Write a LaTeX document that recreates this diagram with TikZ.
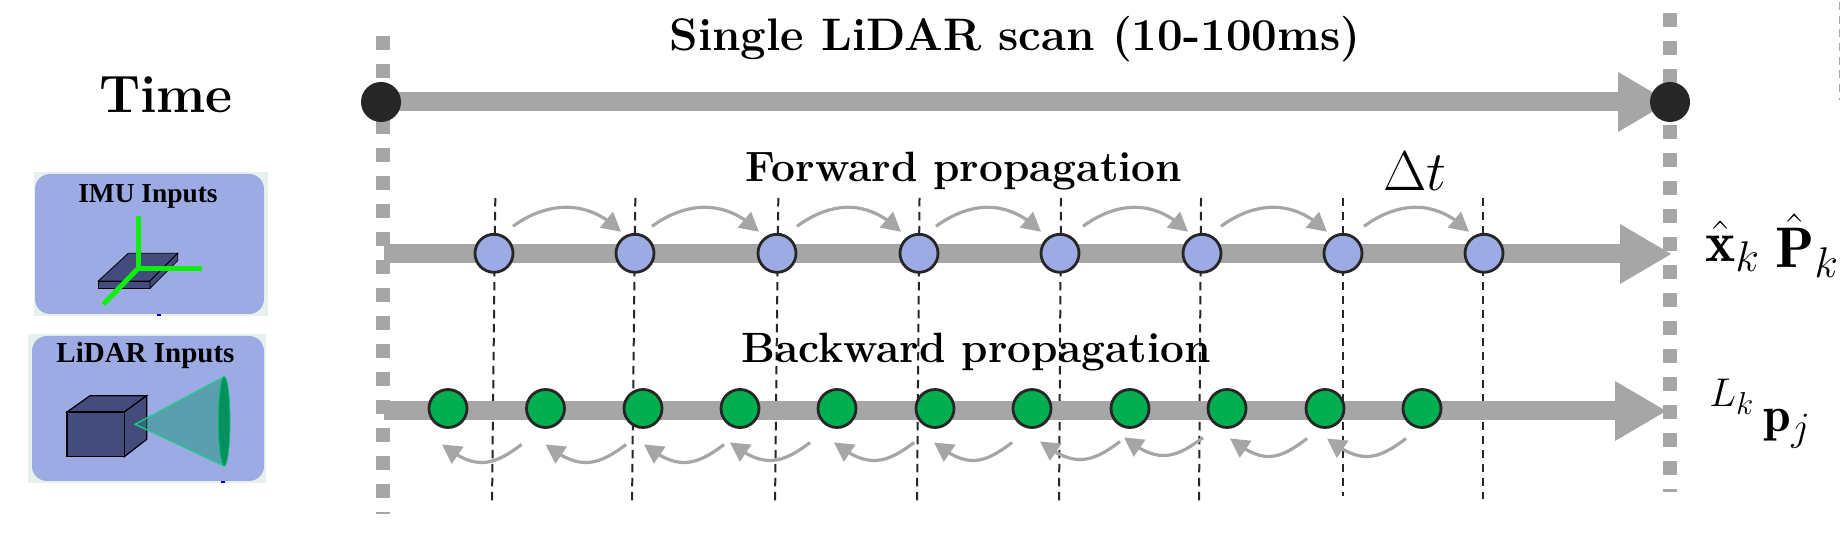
\documentclass[tikz,border=0pt]{standalone}
\usepackage{fix-cm}
\usepackage{amsmath}
\usepackage{amssymb}
\usepackage{bm}
\usepackage{fontspec}
\newfontfamily\panelfont{Liberation Serif}
\usepackage{tikz}
\usetikzlibrary{calc, positioning, backgrounds}
\usetikzlibrary{arrows.meta}
\usetikzlibrary{bending}
\DeclareMathSizes{26}{26}{19.5}{14}
\DeclareMathSizes{23.5}{23.5}{19}{15}
\definecolor{bargray}{HTML}{A6A6A6}
\definecolor{dotblack}{HTML}{262626}
\definecolor{statblue}{HTML}{9DABE4}
\definecolor{ptgreen}{HTML}{00B050}
\definecolor{panelrim}{HTML}{E6F1EE}
\definecolor{solidblue}{HTML}{444C7E}
\definecolor{axisgreen}{HTML}{0CF00C}
\definecolor{conefill}{RGB}{27,147,124}
\definecolor{coneedge}{RGB}{31,208,138}
\definecolor{lensfill}{RGB}{0,145,95}
\definecolor{lensedge}{RGB}{0,192,112}
\tikzset{
	barline/.style={bargray, line width=9.5pt, -{Triangle[length=26pt,width=28pt]}},
	dotline/.style={bargray, line width=7pt, dash pattern=on 7pt off 7pt},
	tickline/.style={dotblack, line width=1pt, dash pattern=on 4.25pt off 2.75pt},
	arcline/.style={bargray, line width=1.6pt, -{Triangle[length=9.5pt,width=10pt]}},
	timedot/.style={circle, fill=dotblack, minimum size=20pt, inner sep=0pt},
	statdot/.style={circle, draw=dotblack, line width=1.4pt, fill=statblue, minimum size=19pt, inner sep=0pt},
	ptdot/.style={circle, draw=dotblack, line width=1.4pt, fill=ptgreen, minimum size=19pt, inner sep=0pt},
	boldlabel/.style={font=\fontsize{21.2}{24}\selectfont\bfseries, inner sep=0pt},
	panellabel/.style={font=\panelfont\fontsize{13.7}{16}\selectfont\bfseries, inner sep=0pt},
	mathlabel/.style={inner sep=0pt, font=\fontsize{28}{32}\selectfont},
	outlabel/.style={inner sep=0pt, anchor=base west, scale=1.1, font=\fontsize{26}{30}\selectfont},
	solidface/.style={fill=solidblue, draw=black, line width=0.6pt},
}
\begin{document}
\begin{tikzpicture}[x=0.5pt, y=-0.5pt]
	\useasboundingbox (0,0) rectangle (1840,533);
	\fill[panelrim] (34,172) rectangle (268,316);
	\fill[statblue, rounded corners=7.5pt] (35,174) rectangle (264,314);
	\fill[panelrim] (28,334) rectangle (266,483);
	\fill[statblue, rounded corners=7.5pt] (32,336) rectangle (264,481);
	\fill[blue!80!black] (157,314) rectangle (161,316);
	\fill[blue!80!black] (221,481) rectangle (225,483);
	\node[panellabel] (imutext) at (148,196) {IMU Inputs};
	\node[panellabel, font=\panelfont\fontsize{14.5}{17}\selectfont\bfseries] (lidartext) at (145.5,356) {LiDAR Inputs};
	\draw[solidface, line width=0.4pt] (98.3,281) -- (128.3,253.3) -- (177.7,253.3) -- (150,281) -- cycle;
	\draw[solidface, line width=0.4pt] (98.3,281) rectangle (150,288.3);
	\draw[solidface, line width=0.4pt] (150,281) -- (177.7,253.3) -- (177.7,260.7) -- (150,288.3) -- cycle;
	\draw[axisgreen, line width=2.5pt] (138.3,215.7) -- (138.3,268.3) -- (201.7,268.3);
	\draw[axisgreen, line width=2.5pt] (138.3,268.3) -- (103.3,304.3);
	\draw[solidface] (67,412) -- (90,395.7) -- (146.7,395.7) -- (124.3,412) -- cycle;
	\draw[solidface] (124.3,412) -- (146.7,395.7) -- (146.7,439.3) -- (124.3,456.7) -- cycle;
	\draw[solidface] (67,412) rectangle (124.3,456.7);
	\fill[conefill, opacity=0.5] (135,424.3) -- (224,376.7) -- (224,466) -- cycle;
	\draw[coneedge, line width=0.6pt] (135,424.3) -- (224,376.7) -- (224,466) -- cycle;
	\draw[lensedge, line width=0.4pt, fill=lensfill] (224.2,421.3) ellipse (5.8 and 44.7);
	\draw[tickline] (495.3,198) coordinate (tt1) -- (492,505) coordinate (tb1);
	\draw[tickline] (635.3,198) coordinate (tt2) -- (632,505) coordinate (tb2);
	\draw[tickline] (778.3,198) coordinate (tt3) -- (775,505) coordinate (tb3);
	\draw[tickline] (919.5,198) coordinate (tt4) -- (917,505) coordinate (tb4);
	\draw[tickline] (1061,198) coordinate (tt5) -- (1059,505) coordinate (tb5);
	\draw[tickline] (1201,198) coordinate (tt6) -- (1199,505) coordinate (tb6);
	\draw[tickline] (1343,198) coordinate (tt7) -- (1343,496) coordinate (tb7);
	\draw[tickline] (1483,198) coordinate (tt8) -- (1483,499) coordinate (tb8);
	\draw[dotline] (383,36) -- (383,514);
	\draw[dotline] (1670,13) -- (1670,491.7);
	\draw[bargray, line width=0.5pt, dash pattern=on 4pt off 2.85pt] (1839,2) -- (1839,100);
	\node[timedot] (t0) at (381,102) {};
	\node[timedot] (t1) at (1670,102) {};
	\coordinate (fstart) at (384,254);
	\coordinate (fend) at (1672,254);
	\coordinate (gstart) at (384,411);
	\coordinate (gend) at (1667,411);
	\begin{pgfonlayer}{background}
	\draw[barline] (t0.center) -- (t1.center);
	\end{pgfonlayer}
	\draw[barline] (fstart) -- (fend);
	\draw[barline] (gstart) -- (gend);
	\foreach \i/\x in {1/494,2/635,3/777,4/919,5/1060,6/1202,7/1343,8/1484}
		\node[statdot] (f\i) at (\x,253.3) {};
	\foreach \i/\x in {1/448,2/545.5,3/643,4/740,5/837,6/935,7/1032,8/1130,9/1227,10/1325,11/1422}
		\node[ptdot] (g\i) at (\x,408.5) {};
	\foreach \i/\j/\a/\b in {1/2/19/-14,2/3/17/-18,3/4/20/-18,4/5/17/-19,5/6/23/-14,6/7/19/-16,7/8/21/-15}
		\draw[arcline] ($(f\i.center)+(\a,-27)$) .. controls +(30,-22) and +(-36,-36) .. ($(f\j.center)+(\b,-21.5)$);
	\foreach \i/\j/\a/\b/\c in {2/1/-24/-6/36,3/2/-17/0/36,4/3/-16/1/36,5/4/-27/-10/34,6/5/-21/-3/34,7/6/-20/-1/34,8/7/-10/8/33,9/8/-24/-6/29,10/9/-18/3/30,11/10/-16/2/30}
		\draw[arcline] ($(g\i.center)+(\a,\c)$) .. controls +(-30,23) and +(32,25) .. ($(g\j.center)+(\b,\c)$);
	\node[boldlabel, font=\fontsize{22.8}{26}\selectfont\bfseries] (scantext) at (1015,39) {Single LiDAR scan (10-100ms)};
	\node[boldlabel, font=\fontsize{26.3}{30}\selectfont\bfseries] (timetext) at (166,95) {Time};
	\node[boldlabel] (fwdtext) at (964,171) {Forward propagation};
	\node[boldlabel] (bwdtext) at (976,352) {Backward propagation};
	\node[mathlabel] (dttext) at (1415,171) {\(\Delta t\)};
	\node[outlabel] (xout) at (1705,261.7) {\(\hat{\mathbf{x}}_k\)};
	\node[outlabel] (pout) at (1775,267.7) {\(\hat{\mathbf{P}}_k\)};
	\node[outlabel, scale=0.96, font=\fontsize{23.5}{28}\selectfont] (ptout) at (1709,431.7) {\({}^{\raisebox{3.5pt}{\(\scriptstyle L_k\)}}\,\mathbf{p}_j\)};
\end{tikzpicture}
\end{document}
